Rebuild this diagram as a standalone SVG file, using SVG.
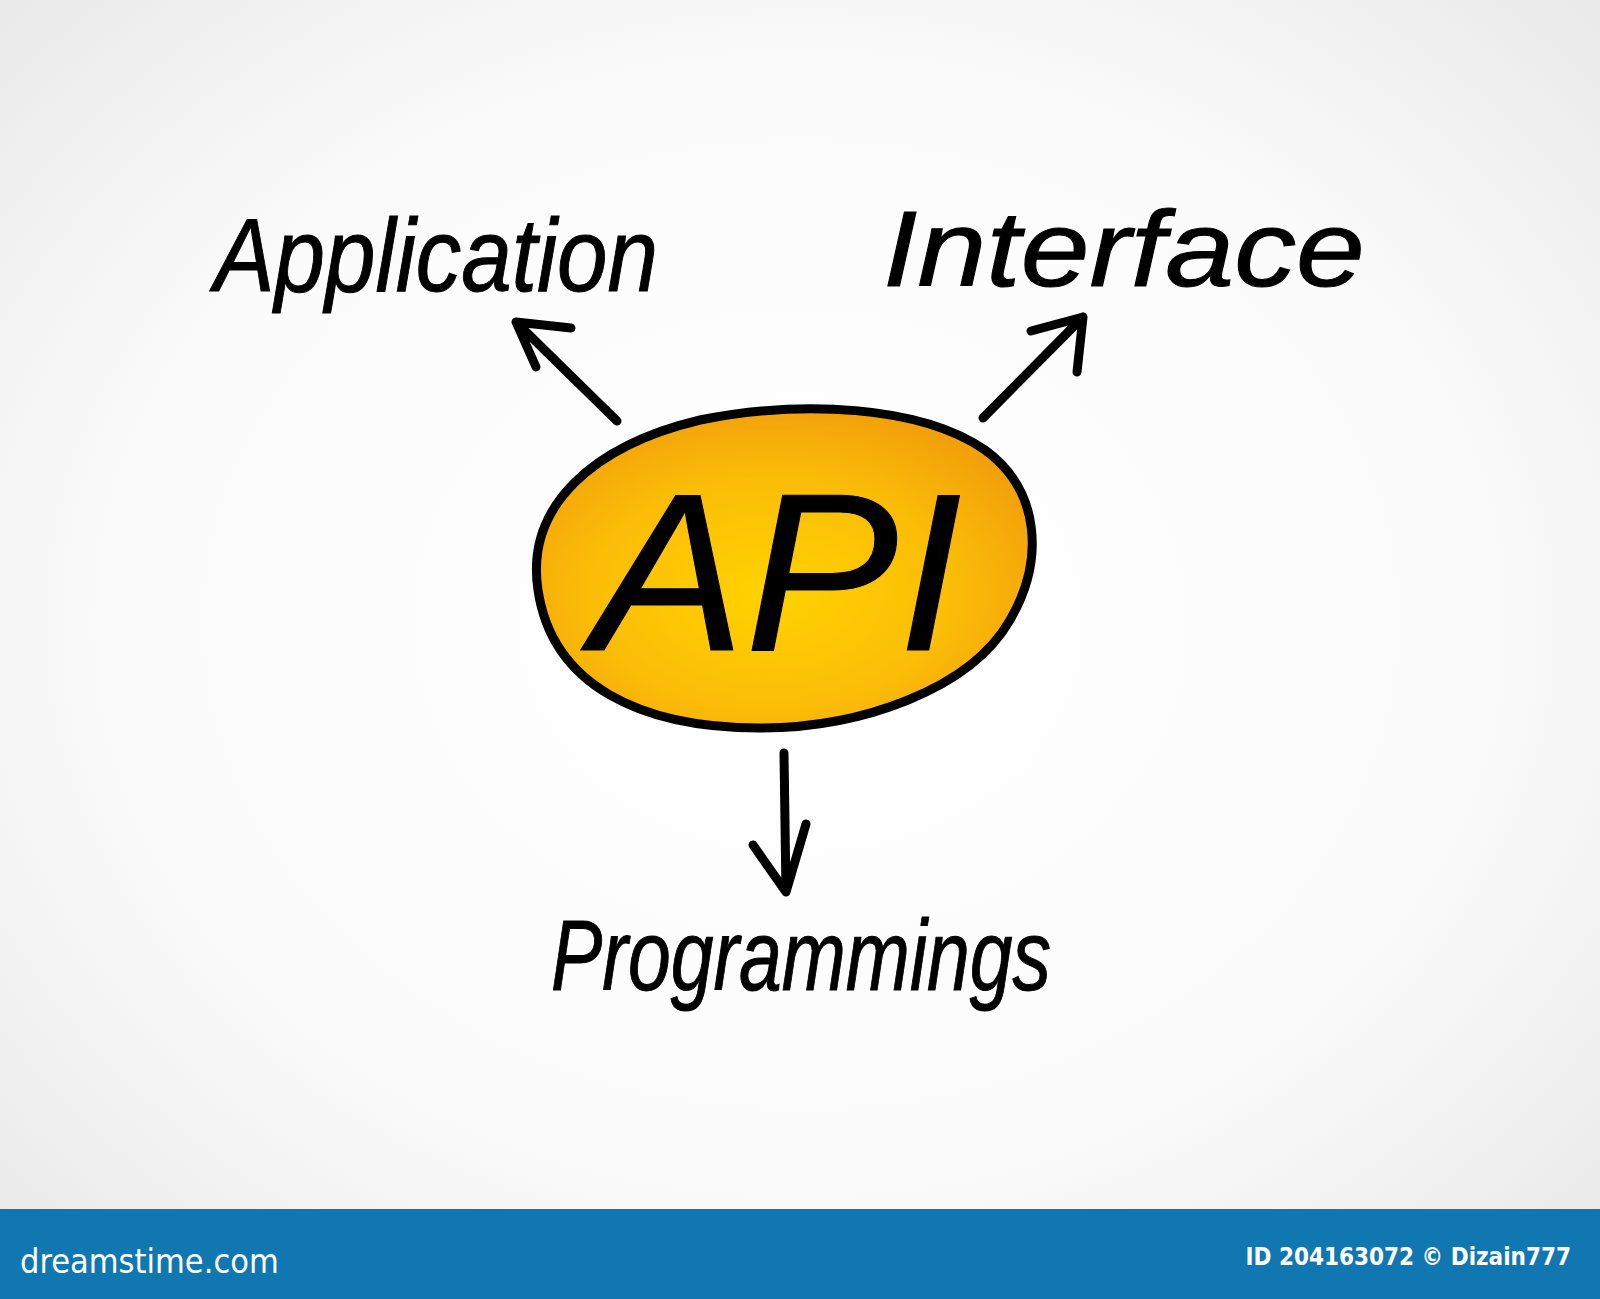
<svg xmlns="http://www.w3.org/2000/svg" width="1600" height="1299" viewBox="0 0 1600 1299">
<defs>
<radialGradient id="bg" cx="50%" cy="48%" r="70%">
<stop offset="0" stop-color="#ffffff"/>
<stop offset="0.6" stop-color="#fbfbfb"/>
<stop offset="1" stop-color="#e9e9ea"/>
</radialGradient>
<radialGradient id="og" cx="47%" cy="58%" r="60%">
<stop offset="0" stop-color="#ffd200"/>
<stop offset="0.6" stop-color="#fbbd08"/>
<stop offset="1" stop-color="#f2a00a"/>
</radialGradient>
</defs>
<style>
.hand{font-family:"Liberation Sans","DejaVu Sans",sans-serif;font-style:italic;fill:#000;stroke:#000;stroke-width:1;}
.conn{fill:none;stroke:#000;stroke-width:9;stroke-linecap:round;stroke-linejoin:round;}
.foot{font-family:"DejaVu Sans Condensed","DejaVu Sans",sans-serif;fill:#fff;}
</style>
<rect x="0" y="0" width="1600" height="1299" fill="url(#bg)"/>
<g id="node-api">
<path d="M 538 590 C 525 505 595 445 700 420 C 800 400 920 405 985 450 C 1040 490 1045 560 1010 620 C 970 690 860 728 760 728 C 640 728 552 685 538 590 Z" fill="url(#og)" stroke="#000" stroke-width="9"/>
<text class="hand" x="592" y="650" font-size="225" textLength="370" lengthAdjust="spacingAndGlyphs" stroke-width="2">API</text>
</g>
<g id="node-application">
<text class="hand" x="214" y="291" font-size="104" textLength="444" lengthAdjust="spacingAndGlyphs">Application</text>
</g>
<g id="node-interface">
<text class="hand" x="883" y="286" font-size="108" textLength="482" lengthAdjust="spacingAndGlyphs">Interface</text>
</g>
<g id="node-programmings">
<text class="hand" x="551" y="990" font-size="100" textLength="500" lengthAdjust="spacingAndGlyphs">Programmings</text>
</g>
<g id="connectors">
<path class="conn" d="M 617 421 L 516 322 M 571 328 L 516 322 L 536 367"/>
<path class="conn" d="M 983 418 L 1083 317 M 1031 331 L 1083 317 L 1077 372"/>
<path class="conn" d="M 784 753 L 786 892 M 753 845 L 786 892 L 806 824"/>
</g>
<g id="footer">
<rect x="0" y="1209" width="1600" height="90" fill="#1077b0"/>
<text class="foot" x="20" y="1273" font-size="34">dreamstime.com</text>
<text class="foot" x="1571" y="1265" font-size="24" font-weight="bold" text-anchor="end">ID 204163072 © Dizain777</text>
</g>
</svg>
